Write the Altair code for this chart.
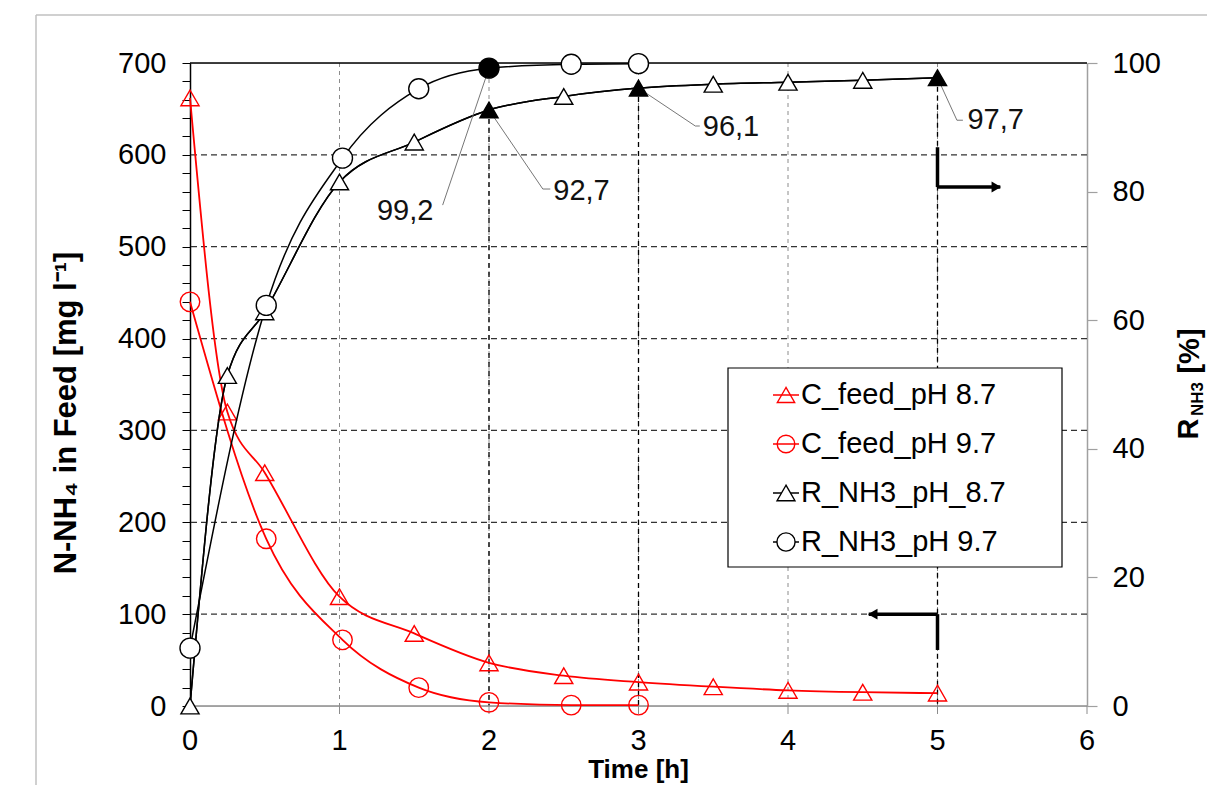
import altair as alt
import pandas as pd

FONT = "Liberation Sans"
FS = 29
PLOT_W = 897
PLOT_H = 643

# ---------------- data ----------------
series_names = ["C_feed_pH 8.7", "C_feed_pH 9.7", "R_NH3_pH_8.7", "R_NH3_pH 9.7"]

time_c87 = [0, 0.25, 0.5, 1, 1.5, 2, 2.5, 3, 3.5, 4, 4.5, 5]
c_feed_87 = [662, 320, 254, 119, 79, 47, 33, 26, 21, 17, 15, 14]
time_c97 = [0, 0.51, 1.02, 1.53, 2.0, 2.55, 3.0]
c_feed_97 = [440, 182, 72, 20, 4, 1, 1]
time_r87 = [0, 0.25, 0.5, 1, 1.5, 2, 2.5, 3, 3.5, 4, 4.5, 5]
r_nh3_87 = [0, 51.4, 61.3, 81.5, 87.7, 92.7, 94.8, 96.1, 96.7, 97.0, 97.3, 97.7]
time_r97 = [0, 0.51, 1.02, 1.53, 2.0, 2.55, 3.0]
r_nh3_97 = [9.0, 62.3, 85.2, 96.0, 99.2, 99.8, 99.9]

marked_r87 = [2, 3, 5]
marked_r97 = [2.0]

ann_labels = ["99,2", "92,7", "96,1", "97,7"]
ann_time = [2, 2, 3, 5]
ann_value = [99.2, 92.7, 96.1, 97.7]
ann_elbow_time = [1.69, 2.36, 3.38, 5.13]
ann_elbow_value = [77.9, 80.4, 90.2, 91.1]
ann_end_time = [1.69, 2.41, 3.41, 5.17]
ann_text_time = [1.25, 2.43, 3.43, 5.20]
ann_text_value = [77.0, 80.1, 90.0, 91.1]

x_ticks = [0, 1, 2, 3, 4, 5, 6]
x_title = "Time [h]"
left_ticks = list(range(0, 701, 20))
right_ticks = [0, 20, 40, 60, 80, 100]
hgrid_values = [100, 200, 300, 400, 500, 600]
vgrid_values = [1, 2, 3, 4, 5]
top_value = [700]
bottom_value = [0]

# arrows: (t1, v1, t2, v2)
arrow_right_t1 = [5, 5]
arrow_right_v1 = [86.9, 80.7]
arrow_right_t2 = [5, 5.42]
arrow_right_v2 = [80.7, 80.7]
arrow_left_t1 = [5, 5]
arrow_left_v1 = [61, 100]
arrow_left_t2 = [5, 4.54]
arrow_left_v2 = [100, 100]

# ---------------- scales / axes ----------------
xs = alt.Scale(domain=[0, 6], nice=False, zero=False)
yl = alt.Scale(domain=[0, 700], nice=False)
yr = alt.Scale(domain=[0, 100], nice=False)

left_axis = alt.Axis(orient="left", values=left_ticks,
                     labelExpr="datum.value % 100 == 0 ? datum.label : ''",
                     tickSize=8, tickColor="black", tickWidth=1,
                     domainColor="black", domainWidth=1.5,
                     labelFontSize=FS, labelFont=FONT, labelColor="black",
                     labelPadding=16, grid=False, title=None,
                     labelOverlap=False, labelFlush=False)
right_axis = alt.Axis(orient="right", values=right_ticks, tickSize=10,
                      tickColor="#a0a0a0", tickWidth=1.2,
                      domainColor="#a0a0a0", domainWidth=1.5,
                      labelFontSize=FS, labelFont=FONT, labelColor="black",
                      labelPadding=15, grid=False, title=None,
                      labelOverlap=False, labelFlush=False)


def series_df(t, v, marked=None):
    marked = marked or []
    return pd.DataFrame({"t": t, "v": v, "hl": [x in marked for x in t]})


def X(field="t"):
    return alt.X(f"{field}:Q", scale=xs, axis=None)


def Y(field, scale, axis=None):
    return alt.Y(f"{field}:Q", scale=scale, axis=axis)


one = pd.DataFrame({"a": [0]})

# frame of the chart area (light grey)
border_top = alt.Chart(one).mark_rule(color="#c0c0c0", strokeWidth=1.5).encode(
    x=alt.value(-154), x2=alt.value(1040), y=alt.value(-48))
border_left = alt.Chart(one).mark_rule(color="#c0c0c0", strokeWidth=1.5).encode(
    x=alt.value(-154), y=alt.value(-48), y2=alt.value(730))

# grids
vgrid = alt.Chart(pd.DataFrame({"t": vgrid_values})).mark_rule(
    color="#8c8c8c", strokeDash=[4, 4], strokeWidth=1).encode(x=X("t"))
hgrid = alt.Chart(pd.DataFrame({"v": hgrid_values})).mark_rule(
    color="#333333", strokeDash=[6, 4], strokeWidth=1.2).encode(y=Y("v", yl, left_axis))
top_line = alt.Chart(pd.DataFrame({"v": top_value})).mark_rule(
    color="black", strokeWidth=1.5).encode(y=Y("v", yl))

# x axis (drawn with marks)
xdf = pd.DataFrame({"t": x_ticks})
x_domain = alt.Chart(pd.DataFrame({"v": bottom_value})).mark_rule(
    color="#8c8c8c", strokeWidth=1.5).encode(y=Y("v", yl))
x_tick_marks = alt.Chart(xdf).mark_rule(color="#8c8c8c", strokeWidth=1).encode(
    x=X("t"), y=alt.value(PLOT_H), y2=alt.value(PLOT_H + 8))
x_labels = alt.Chart(xdf).mark_text(font=FONT, fontSize=FS, color="black",
                                    align="center", baseline="middle").encode(
    x=X("t"), y=alt.value(PLOT_H + 35), text=alt.Text("t:Q"))
x_title_mark = alt.Chart(one).mark_text(text=x_title, font=FONT, fontSize=26, fontWeight="bold",
                                        color="black", align="center", baseline="top").encode(
    x=alt.value(PLOT_W / 2), y=alt.value(PLOT_H + 51))

c87 = series_df(time_c87, c_feed_87)
c97 = series_df(time_c97, c_feed_97)
r87 = series_df(time_r87, r_nh3_87, marked_r87)
r97 = series_df(time_r97, r_nh3_97, marked_r97)


def line(df, scale, color, width, axis=None):
    return alt.Chart(df).mark_line(color=color, strokeWidth=width, interpolate="monotone").encode(
        x=X("t"), y=Y("v", scale, axis))


def hollow(df, scale, color, shape, size):
    return alt.Chart(df).mark_point(shape=shape, size=size, filled=False, stroke=color,
                                    strokeWidth=1.4, opacity=1).encode(x=X(), y=Y("v", scale))


def filled_pts(df, scale, shape, size):
    return alt.Chart(df).mark_point(shape=shape, size=size, stroke="black",
                                    strokeWidth=1.4, opacity=1, fillOpacity=1).encode(
        x=X(), y=Y("v", scale),
        fill=alt.when(alt.datum.hl).then(alt.value("black")).otherwise(alt.value("white")))


drop_df = r87[r87["hl"]].reset_index(drop=True).assign(zero=0)
drops = alt.Chart(drop_df).mark_rule(color="black", strokeDash=[5, 4], strokeWidth=1.3).encode(
    x=X(), y=Y("v", yr), y2="zero:Q")

# arrows
arrow_left_df = pd.DataFrame({"t1": arrow_left_t1, "v1": arrow_left_v1,
                              "t2": arrow_left_t2, "v2": arrow_left_v2})
arrow_left = alt.Chart(arrow_left_df).mark_rule(color="black", strokeWidth=3.5, strokeCap="butt").encode(
    x=X("t1"), x2="t2:Q", y=Y("v1", yl), y2="v2:Q")
arrow_left_head = alt.Chart(arrow_left_df.tail(1)).mark_point(
    shape="triangle-left", size=120, filled=True, color="black", opacity=1, xOffset=4).encode(
    x=X("t2"), y=Y("v2", yl))
arrow_right_df = pd.DataFrame({"t1": arrow_right_t1, "v1": arrow_right_v1,
                               "t2": arrow_right_t2, "v2": arrow_right_v2})
arrow_right = alt.Chart(arrow_right_df).mark_rule(color="black", strokeWidth=3.5, strokeCap="butt").encode(
    x=X("t1"), x2="t2:Q", y=Y("v1", yr), y2="v2:Q")
arrow_right_head = alt.Chart(arrow_right_df.tail(1)).mark_point(
    shape="triangle-right", size=120, filled=True, color="black", opacity=1, xOffset=-4).encode(
    x=X("t2"), y=Y("v2", yr))

# annotations
ann_df = pd.DataFrame({"label": ann_labels, "t": ann_time, "v": ann_value,
                       "te": ann_elbow_time, "ve": ann_elbow_value,
                       "tend": ann_end_time, "tt": ann_text_time, "vt": ann_text_value})
leader1 = alt.Chart(ann_df).mark_rule(color="#666666", strokeWidth=0.9).encode(
    x=X("t"), x2="te:Q", y=Y("v", yr), y2="ve:Q")
leader2 = alt.Chart(ann_df).mark_rule(color="#666666", strokeWidth=0.9).encode(
    x=X("te"), x2="tend:Q", y=Y("ve", yr))
ann_text = alt.Chart(ann_df).mark_text(align="left", baseline="middle", font=FONT,
                                       fontSize=FS, color="#111111").encode(
    x=X("tt"), y=Y("vt", yr), text="label:N")

# legend (manual box)
legend_df = pd.DataFrame({"series": series_names, "row": list(range(len(series_names)))})
leg_base = alt.Chart(legend_df).transform_calculate(ly="332 + datum.row * 49")
leg_color = alt.Scale(domain=series_names, range=["red", "red", "black", "black"])
leg_fill = alt.Scale(domain=series_names, range=["transparent", "transparent", "white", "white"])
leg_shape = alt.Scale(domain=series_names, range=["triangle-up", "circle", "triangle-up", "circle"])
leg_size = alt.Scale(domain=series_names, range=[300, 330, 300, 330])
leg_box = alt.Chart(one).mark_rect(fill="white", stroke="black", strokeWidth=1.2).encode(
    x=alt.value(538), x2=alt.value(872), y=alt.value(305), y2=alt.value(504))
leg_rule = leg_base.mark_rule(strokeWidth=1.5).encode(
    x=alt.value(583), x2=alt.value(609), y=alt.Y("ly:Q", scale=None, axis=None),
    stroke=alt.Stroke("series:N", scale=leg_color, legend=None))
leg_pts = leg_base.mark_point(strokeWidth=1.4, opacity=1, fillOpacity=1).encode(
    x=alt.value(596), y=alt.Y("ly:Q", scale=None, axis=None),
    stroke=alt.Stroke("series:N", scale=leg_color, legend=None),
    fill=alt.Fill("series:N", scale=leg_fill, legend=None),
    shape=alt.Shape("series:N", scale=leg_shape, legend=None),
    size=alt.Size("series:N", scale=leg_size, legend=None))
leg_text = leg_base.mark_text(align="left", baseline="middle", font=FONT, fontSize=FS,
                              color="black").encode(
    x=alt.value(611), y=alt.Y("ly:Q", scale=None, axis=None), text="series:N")

# axis titles drawn as text (sub/superscripts)
left_title = alt.Chart(one).mark_text(
    text="N-NH\u2084 in Feed [mg l\u207b\u00b9]", angle=270, font=FONT, fontSize=31,
    fontWeight="bold", align="center", baseline="middle", color="black").encode(
    x=alt.value(-123), y=alt.value(350))
rt_r = alt.Chart(one).mark_text(
    text="R", angle=270, font=FONT, fontSize=FS, fontWeight="bold", align="center",
    baseline="middle", color="black").encode(x=alt.value(999), y=alt.value(366))
rt_sub = alt.Chart(one).mark_text(
    text="NH3", angle=270, font=FONT, fontSize=17, fontWeight="bold", align="center",
    baseline="middle", color="black").encode(x=alt.value(1008), y=alt.value(336))
rt_pct = alt.Chart(one).mark_text(
    text="[%]", angle=270, font=FONT, fontSize=FS, fontWeight="bold", align="center",
    baseline="middle", color="black").encode(x=alt.value(1000), y=alt.value(288))

chart = alt.layer(
    line(r87, yr, "black", 1.5, right_axis),
    vgrid, hgrid,
    border_top, border_left, top_line, drops,
    x_domain, x_tick_marks, x_labels, x_title_mark,
    line(c87, yl, "red", 1.8), line(c97, yl, "red", 1.8),
    hollow(c87, yl, "red", "triangle-up", 330), hollow(c97, yl, "red", "circle", 380),
    line(r97, yr, "black", 1.5),
    line(r87, yr, "black", 1.5),
    leader1, leader2,
    filled_pts(r87, yr, "triangle-up", 330), filled_pts(r97, yr, "circle", 400),
    ann_text, arrow_left, arrow_left_head, arrow_right, arrow_right_head,
    leg_box, leg_rule, leg_pts, leg_text,
    left_title, rt_r, rt_sub, rt_pct,
).resolve_scale(y="independent").properties(
    width=PLOT_W, height=PLOT_H,
    autosize=alt.AutoSizeParams(type="none"),
    padding={"left": 182, "top": 55, "right": 120, "bottom": 80},
).configure_view(stroke="transparent").configure(font=FONT)

chart.save("out.html", embed_options={"renderer": "svg", "actions": False})
